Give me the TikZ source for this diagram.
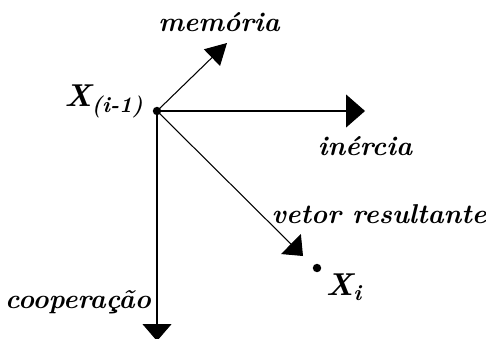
\documentclass[tikz,border=0pt]{standalone}
\usepackage{tikz}
\usetikzlibrary{arrows.meta}

\begin{document}
\begin{tikzpicture}[x=0.02cm, y=-0.02cm,
    rotulo/.style={font=\fontsize{15.5}{18}\selectfont\bfseries\itshape},
    ponto/.style={font=\fontsize{18}{21}\selectfont\bfseries\itshape},
    vetor/.style={line width=0.6pt}]

    \useasboundingbox (0,0) rectangle (486,338);

    % Pontos
    \coordinate (O) at (157,111);
    \coordinate (Xi) at (317,268);
    \fill (O) circle (2.4pt);
    \fill (Xi) circle (2.4pt);

    % Extremos dos vetores
    \coordinate (mem) at (227,43);
    \coordinate (ine) at (365,111);
    \coordinate (res) at (303,256);
    \coordinate (coop) at (157,341);

    % Vetores
    \draw[vetor, -{Triangle[length=0.42cm, width=0.46cm]}] (O) -- (mem);
    \draw[vetor, -{Triangle[length=0.38cm, width=0.66cm]}] (O) -- (ine);
    \draw[vetor, -{Triangle[length=0.34cm, width=0.56cm]}] (O) -- (res);
    \draw[vetor, -{Triangle[length=0.34cm, width=0.58cm]}] (O) -- (coop);

    % Rotulos
    \node[ponto] (lorig) at (104,101) {X\textsubscript{(i-1)}};
    \node[rotulo] (lmem) at (219,22) {memória};
    \node[rotulo] (line) at (365,146) {inércia};
    \node[rotulo] (lres) at (379,214) {vetor resultante};
    \node[ponto] (lxi) at (344,287) {X\textsubscript{i}};
    \node[rotulo] (lcoop) at (78,302) {cooperação};

\end{tikzpicture}
\end{document}
